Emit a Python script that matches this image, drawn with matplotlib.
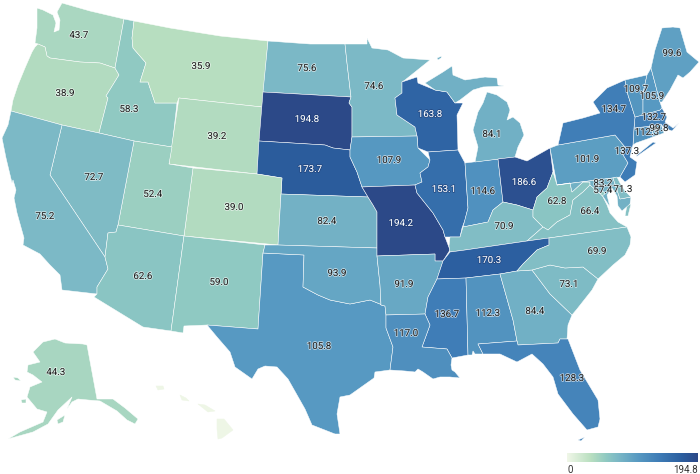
import matplotlib
matplotlib.use("Agg")
import matplotlib.pyplot as plt
import matplotlib.patheffects as pe
import numpy as np
from matplotlib.colors import LinearSegmentedColormap, Normalize

plt.rcParams["font.family"] = ["Roboto", "DejaVu Sans"]

states = ["WA", "OR", "ID", "MT", "WY", "ND", "SD", "NE", "CO", "KS", "UT", "NV", "CA", "AZ", "NM",
          "TX", "OK", "AK", "MN", "WI", "IA", "MO", "IL", "IN", "MI", "OH", "KY", "PA", "WV", "VA",
          "MD", "DC", "DE", "NJ", "CT", "RI", "MA", "NY", "VT", "NH", "ME", "AR", "TN", "MS", "AL",
          "GA", "SC", "NC", "LA", "FL", "HI"]
values = [43.7, 38.9, 58.3, 35.9, 39.2, 75.6, 194.8, 173.7, 39.0, 82.4, 52.4, 72.7, 75.2, 62.6, 59.0,
          105.8, 93.9, 44.3, 74.6, 163.8, 107.9, 194.2, 153.1, 114.6, 84.1, 186.6, 70.9, 101.9, 62.8, 66.4,
          83.2, 57.4, 71.3, 137.3, 112.3, 99.8, 132.7, 134.7, 109.7, 105.9, 99.6, 91.9, 170.3, 136.7, 112.3,
          84.4, 73.1, 69.9, 117.0, 128.3, 2.0]
value_max = 194.8

# no map data offline, outlines (pixel coords)
outlines = {
    "WA": [[(37, 8), (43, 10), (53, 15), (56, 23), (54, 32), (59, 30), (60, 20), (57, 12), (62, 3), (90, 11), (124, 19),
            (115, 68), (100, 63), (80, 62), (65, 60), (50, 58), (47, 56), (45, 47), (38, 44), (35, 43), (37, 28)]],
    "OR": [[(35, 47), (38, 44), (45, 47), (47, 56), (50, 58), (65, 60), (80, 62), (100, 63), (115, 68), (119, 75),
            (106, 96), (108, 98), (99, 133), (62, 125), (11, 111), (13, 100), (18, 85), (25, 68), (32, 52)]],
    "ID": [[(124, 19), (134, 21), (132, 38), (133, 48), (146, 63), (140, 82), (148, 82), (155, 103), (163, 103),
            (177, 103), (172, 147), (134, 141), (99, 133), (108, 98), (106, 96), (119, 75), (115, 68)]],
    "MT": [[(134, 21), (170, 28), (220, 36), (268, 41), (262, 107), (179, 98), (177, 103), (163, 103), (155, 103),
            (148, 82), (140, 82), (146, 63), (133, 48), (132, 38)]],
    "WY": [[(179, 98), (262, 107), (257, 174), (169, 164)]],
    "ND": [[(268, 41), (310, 44), (345, 44), (347, 63), (349, 80), (351, 97), (263, 92)]],
    "SD": [[(263, 92), (351, 97), (349, 103), (352, 107), (352, 137), (350, 150), (333, 148), (325, 145), (259, 141)]],
    "NE": [[(259, 141), (325, 145), (333, 148), (350, 150), (350, 157), (357, 172), (362, 187), (368, 197), (281, 194),
            (282, 178), (257, 174)]],
    "CO": [[(169, 164), (193, 168), (257, 174), (282, 178), (278, 245), (184, 236), (193, 168)]],
    "KS": [[(281, 194), (368, 197), (373, 205), (377, 212), (377, 248), (278, 245)]],
    "UT": [[(134, 141), (172, 147), (169, 164), (193, 168), (184, 236), (118, 225)]],
    "NV": [[(62, 125), (99, 133), (134, 141), (118, 225), (116, 232), (108, 233), (105, 257), (50, 175)]],
    "CA": [[(11, 111), (62, 125), (50, 175), (105, 257), (108, 269), (97, 287), (97, 294), (62, 290), (60, 275),
            (50, 265), (40, 254), (23, 245), (24, 238), (17, 213), (14, 198), (16, 190), (13, 180), (12, 183),
            (6, 158), (2, 138), (8, 125)]],
    "AZ": [[(118, 225), (184, 236), (171, 331), (143, 327), (94, 297), (97, 294), (97, 287), (108, 269), (105, 257),
            (108, 233), (116, 232)]],
    "NM": [[(184, 236), (265, 245), (263, 253), (258, 329), (207, 325), (184, 326), (183, 333), (171, 331)]],
    "TX": [[(263, 253), (304, 255), (303, 287), (318, 295), (330, 300), (350, 304), (370, 300), (385, 306), (386, 315),
            (386, 328), (393, 347), (390, 370), (375, 372), (374, 378), (350, 395), (340, 397), (337, 414), (340, 434),
            (335, 434), (312, 425), (305, 409), (288, 379), (277, 367), (265, 366), (258, 369), (252, 379),
            (235, 367), (230, 352), (217, 337), (207, 325), (258, 329)]],
    "OK": [[(265, 245), (278, 245), (377, 248), (377, 256), (380, 285), (381, 305), (385, 306), (370, 300), (350, 304),
            (330, 300), (318, 295), (303, 287), (304, 255), (263, 253)]],
    "AK": [[(55, 339), (65, 343), (83, 344), (87, 345), (97, 399), (100, 399), (113, 399), (125, 408), (138, 419), (135, 424),
            (127, 420), (117, 411), (100, 401), (88, 400), (78, 399), (72, 402), (67, 409), (72, 397), (58, 410), (48, 424),
            (33, 432), (8, 439), (20, 432), (43, 422), (47, 412), (37, 409), (27, 397), (30, 387), (42, 382),
            (33, 375), (27, 372), (28, 365), (40, 362), (33, 352), (43, 342)],
           [(57, 420), (65, 415), (63, 422), (58, 424)], [(21, 400), (26, 399), (26, 403), (22, 403)],
           [(13, 377), (18, 378), (21, 381), (15, 380)]],
    "MN": [[(350, 44), (367, 44), (367, 38), (372, 48), (388, 50), (403, 58), (430, 60), (405, 80), (402, 82), (402, 93),
            (395, 98), (397, 115), (415, 127), (417, 136), (352, 137), (352, 107), (349, 103), (351, 97), (349, 80),
            (347, 63), (345, 44)]],
    "WI": [[(402, 82), (417, 77), (418, 83), (435, 90), (447, 92), (455, 103), (463, 103), (457, 115), (458, 150),
            (428, 152), (418, 148), (417, 136), (415, 127), (397, 115), (395, 98), (402, 93)]],
    "IA": [[(352, 137), (417, 136), (418, 148), (430, 160), (428, 167), (420, 173), (422, 182), (415, 185), (362, 187),
            (357, 172), (350, 157), (350, 150)]],
    "MO": [[(362, 187), (415, 185), (417, 193), (433, 213), (443, 230), (445, 237), (450, 250), (443, 261), (435, 261),
            (435, 254), (377, 256), (377, 248), (377, 212), (373, 205), (368, 197)]],
    "IL": [[(428, 152), (458, 150), (465, 163), (468, 208), (465, 220), (462, 228), (460, 237), (450, 237), (445, 237), (443, 230),
            (433, 213), (417, 193), (415, 185), (422, 182), (420, 173), (428, 167), (430, 160)]],
    "IN": [[(465, 163), (498, 159), (503, 202), (493, 210), (488, 222), (463, 227), (468, 208)]],
    "MI": [[(425, 83), (443, 72), (452, 66), (453, 75), (465, 80), (485, 77), (497, 78), (498, 85), (504, 86), (483, 87),
            (473, 90), (460, 100), (455, 103), (447, 92), (435, 90)],
           [(487, 92), (497, 95), (507, 102), (510, 110), (507, 120), (513, 117), (520, 123), (524, 135), (518, 147),
            (515, 157), (475, 162), (478, 147), (473, 130), (478, 112), (483, 103)],
           [(437, 58), (442, 56), (441, 58), (438, 60)]],
    "OH": [[(498, 159), (515, 157), (527, 161), (550, 148), (553, 172), (547, 188), (537, 197), (533, 210), (517, 205),
            (503, 202)]],
    "KY": [[(463, 227), (488, 222), (493, 210), (503, 202), (517, 205), (533, 210), (533, 217), (543, 227), (527, 241),
            (465, 250), (450, 252), (449, 246), (450, 237), (460, 237)]],
    "PA": [[(550, 148), (558, 145), (615, 135), (625, 147), (622, 153), (628, 163), (620, 177), (557, 185)]],
    "WV": [[(553, 172), (557, 185), (570, 183), (572, 192), (583, 182), (590, 182), (590, 185), (583, 192), (573, 200),
            (570, 215), (557, 222), (548, 230), (543, 227), (533, 217), (533, 210), (537, 197), (547, 188)]],
    "VA": [[(527, 241), (549, 238), (627, 227), (618, 222), (610, 213), (607, 205), (602, 195), (590, 185), (583, 192),
            (573, 200), (570, 215), (557, 222), (548, 230), (543, 227)], [(627, 205), (631, 204), (628, 216), (625, 216)]],
    "MD": [[(557, 185), (613, 178), (617, 190), (620, 199), (631, 197), (630, 204), (622, 211), (618, 206), (617, 196),
            (612, 188), (607, 195), (610, 207), (602, 195), (590, 185), (590, 182), (583, 182), (572, 192), (570, 183)]],
    "DC": [[(600, 193), (603, 191), (605, 194), (602, 196)]],
    "DE": [[(613, 178), (617, 177), (620, 183), (625, 191), (631, 197), (620, 199), (617, 190)]],
    "NJ": [[(622, 153), (625, 147), (632, 148), (630, 157), (637, 162), (635, 175), (625, 182), (620, 177), (628, 163)]],
    "CT": [[(634, 128), (652, 126), (653, 137), (636, 143), (633, 145)]],
    "RI": [[(652, 126), (661, 124), (664, 133), (653, 137)]],
    "MA": [[(635, 117), (660, 110), (662, 108), (667, 117), (665, 122), (673, 128), (679, 123), (672, 131), (664, 128), (661, 124),
            (652, 126), (634, 128)]],
    "NY": [[(558, 145), (563, 123), (583, 118), (600, 113), (593, 102), (607, 88), (625, 80), (628, 95), (635, 117), (634, 128),
            (633, 145), (632, 148), (625, 147), (615, 135)],
           [(637, 155), (653, 142), (656, 143), (643, 152), (636, 157)]],
    "VT": [[(625, 80), (647, 75), (643, 93), (643, 115), (635, 117), (628, 95)]],
    "NH": [[(647, 75), (651, 68), (660, 102), (662, 108), (660, 110), (643, 115), (643, 93)]],
    "ME": [[(651, 68), (655, 50), (662, 28), (673, 27), (680, 28), (687, 52), (699, 62), (690, 72), (683, 78), (678, 75),
            (670, 90), (662, 102), (660, 102)]],
    "AR": [[(377, 256), (435, 254), (435, 261), (443, 261), (437, 279), (428, 297), (425, 314), (386, 315), (385, 306),
            (381, 305), (380, 285)]],
    "TN": [[(549, 238), (527, 241), (465, 250), (450, 252), (443, 261), (437, 279), (466, 278), (500, 274), (517, 271), (523, 264), (537, 250), (549, 245)]],
    "MS": [[(437, 279), (466, 278), (468, 355), (452, 358), (447, 349), (422, 347), (430, 325), (425, 314), (428, 297)]],
    "AL": [[(466, 278), (500, 274), (513, 320), (517, 341), (478, 344), (483, 354), (475, 354), (473, 351), (472, 355), (468, 355)]],
    "GA": [[(500, 274), (517, 271), (532, 270), (550, 294), (572, 315), (568, 325), (567, 339), (560, 339), (558, 343), (518, 345),
            (517, 341), (513, 320)]],
    "SC": [[(532, 270), (550, 265), (565, 268), (583, 267), (598, 279), (592, 290), (577, 309), (572, 315), (550, 294)]],
    "NC": [[(549, 238), (627, 227), (631, 237), (630, 245), (625, 255), (613, 265), (598, 279), (583, 267), (565, 268),
            (550, 265), (532, 270), (517, 271), (523, 264), (537, 250), (549, 245)]],
    "LA": [[(386, 315), (425, 314), (430, 325), (422, 347), (447, 349), (452, 358), (451, 365), (452, 370), (455, 372), (460, 378),
            (450, 377), (440, 377), (433, 379), (423, 372), (418, 369), (415, 372), (405, 371), (390, 370), (393, 347), (386, 328)]],
    "FL": [[(478, 344), (517, 341), (518, 345), (558, 343), (560, 339), (568, 339), (580, 370), (598, 400), (600, 419),
            (598, 427), (587, 430), (573, 414), (558, 394), (553, 377), (543, 364), (532, 354), (517, 362), (500, 354),
            (483, 354)], [(578, 440), (585, 437), (581, 441)]],
    "HI": [[(217, 419), (224, 419), (233, 430), (222, 438), (218, 439), (217, 429)], [(198, 404), (205, 405), (215, 411), (208, 412)],
           [(180, 395), (186, 398), (189, 401), (182, 400)], [(156, 386), (163, 386), (164, 389), (158, 390)]],
}

label_pos = {
    "WA": (79, 35), "OR": (65, 93), "ID": (129, 109), "MT": (201, 66), "WY": (217, 136), "ND": (307, 68),
    "SD": (307, 119), "NE": (310, 169), "CO": (234, 207), "KS": (327, 221), "UT": (153, 194), "NV": (94, 177),
    "CA": (45, 216), "AZ": (143, 276), "NM": (219, 282), "TX": (319, 346), "OK": (337, 273), "AK": (56, 372),
    "MN": (374, 86), "WI": (430, 114), "IA": (389, 160), "MO": (401, 223), "IL": (444, 189), "IN": (483, 191),
    "MI": (492, 134), "OH": (524, 182), "KY": (504, 226), "PA": (587, 159), "WV": (557, 201), "VA": (590, 211),
    "MD": (603, 183), "DC": (603, 190), "DE": (623, 189), "NJ": (627, 151), "CT": (647, 132), "RI": (659, 128),
    "MA": (654, 117), "NY": (614, 109), "VT": (636, 89), "NH": (652, 96), "ME": (672, 53), "AR": (404, 284),
    "TN": (489, 260), "MS": (447, 314), "AL": (488, 313), "GA": (535, 311), "SC": (569, 284), "NC": (597, 251),
    "LA": (406, 333), "FL": (572, 378),
}

cmap = LinearSegmentedColormap.from_list("gnbu", [
    (0.0, "#f0f7e8"), (0.18, "#b9dfc0"), (0.30, "#8fc9c2"), (0.39, "#7bb8c6"),
    (0.54, "#589ac2"), (0.70, "#3f7db7"), (0.88, "#2b5e9f"), (1.0, "#2c4988"),
])
norm = Normalize(0, value_max)

fig = plt.figure(figsize=(7, 4.74), dpi=100)
ax = fig.add_axes([0, 0, 1, 1])
ax.set_xlim(0, 700)
ax.set_ylim(474, 0)
ax.axis("off")

for st, val in zip(states, values):
    cor = cmap(norm(val))
    borda = cor if st == "HI" else "#ffffff"
    for poly in outlines[st]:
        ax.fill(*zip(*poly), facecolor=cor, edgecolor=borda, linewidth=0.35, joinstyle="round")

for st, val in zip(states, values):
    if st not in label_pos:
        continue  # Hawaii has no label
    x, y = label_pos[st]
    if val > 150:
        cor_txt, halo = "white", "#1d3a70"
    else:
        cor_txt, halo = "#222222", "white"
    t = ax.text(x, y, f"{val:.1f}", ha="center", va="center", fontsize=7, color=cor_txt)
    t.set_path_effects([pe.withStroke(linewidth=1.2, foreground=halo, alpha=0.6)])

# colour scale, bottom right
cax = fig.add_axes([567 / 700, 1 - 462 / 474, 131 / 700, 9 / 474])
cax.imshow(np.linspace(0, 1, 256)[None, :], cmap=cmap, aspect="auto", vmin=0, vmax=1)
cax.axis("off")
ax.text(567, 470, "0", ha="left", va="center", fontsize=7, color="#333333")
ax.text(698, 470, f"{value_max:.1f}", ha="right", va="center", fontsize=7, color="#333333")

fig.savefig("out.png", dpi=100)
